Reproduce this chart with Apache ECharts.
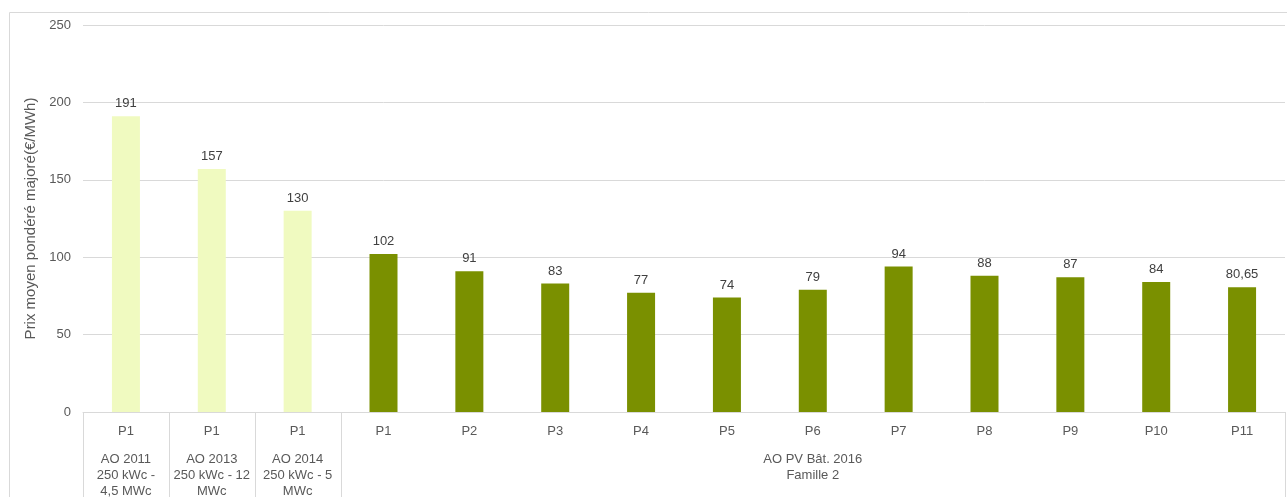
<!DOCTYPE html>
<html>
<head>
<meta charset="utf-8">
<script src="https://cdn.jsdelivr.net/npm/echarts@6/dist/echarts.min.js"></script>
<style>
  html, body { margin: 0; padding: 0; background: #fff; }
  #chart { width: 1287px; height: 497px; }
</style>
</head>
<body>
<div id="chart"></div>
<script>
// données
const phases = ['P1', 'P1', 'P1', 'P1', 'P2', 'P3', 'P4', 'P5', 'P6', 'P7', 'P8', 'P9', 'P10', 'P11'];
const prix = [191, 157, 130, 102, 91, 83, 77, 74, 79, 94, 88, 87, 84, 80.65];
const groupe = [0, 1, 2, 3, 3, 3, 3, 3, 3, 3, 3, 3, 3, 3]; // appel d'offres de chaque barre
const groupLabels = ['AO 2011\n250 kWc -\n4,5 MWc', 'AO 2013\n250 kWc - 12\nMWc', 'AO 2014\n250 kWc - 5\nMWc', '', '', '', '', '', 'AO PV Bât. 2016\nFamille 2', '', '', '', '', ''];
const groupColors = ['#f0fac0', '#f0fac0', '#f0fac0', '#7a9000'];

const fontFamily = '"Liberation Sans", Arial, sans-serif';
const gris = '#d9d9d9';

const chart = echarts.init(document.getElementById('chart'));

const option = {
  animation: false,
  textStyle: { fontFamily: fontFamily },
  grid: { left: 83, right: 2, top: 25, bottom: 85, containLabel: false, outerBoundsMode: 'none' },
  xAxis: [
    {
      type: 'category',
      data: phases,
      axisLine: { lineStyle: { color: gris } },
      axisTick: { show: false },
      axisLabel: { interval: 0, color: '#595959', fontSize: 13, margin: 13 }
    },
    {
      type: 'category',
      position: 'bottom',
      data: groupLabels,
      axisLine: { show: false },
      axisTick: { show: false },
      axisLabel: { interval: 0, color: '#595959', fontSize: 13, margin: 39, lineHeight: 16 }
    }
  ],
  yAxis: {
    type: 'value',
    min: 0,
    max: 250,
    interval: 50,
    name: 'Prix moyen pondéré majoré(€/MWh)',
    nameLocation: 'middle',
    nameGap: 40,
    nameTextStyle: { color: '#595959', fontSize: 15 },
    axisLine: { show: false },
    axisTick: { show: false },
    axisLabel: { color: '#595959', fontSize: 13, margin: 12 },
    splitLine: { lineStyle: { color: gris } }
  },
  series: [
    {
      type: 'bar',
      barWidth: 28,
      data: prix.map((v, i) => ({ value: v, itemStyle: { color: groupColors[groupe[i]] } })),
      label: {
        show: true,
        position: 'top',
        distance: 6,
        color: '#404040',
        fontSize: 13,
        formatter: p => String(p.value).replace('.', ',')
      }
    }
  ]
};

chart.setOption(option);

// séparateurs des groupes sous l'axe + cadre du graphique
const x0 = chart.convertToPixel({ xAxisIndex: 0 }, 0);
const x1 = chart.convertToPixel({ xAxisIndex: 0 }, 1);
const band = x1 - x0;
const yZero = chart.convertToPixel({ yAxisIndex: 0 }, 0);
const bounds = [0, 1, 2, 3].map(i => chart.convertToPixel({ xAxisIndex: 0 }, i) - band / 2);
bounds.push(chart.convertToPixel({ xAxisIndex: 0 }, phases.length - 1) + band / 2);

const graphics = bounds.map(x => ({
  type: 'line',
  shape: { x1: Math.round(x) + 0.5, y1: yZero, x2: Math.round(x) + 0.5, y2: 497 },
  style: { stroke: gris, lineWidth: 1 },
  silent: true
}));
graphics.push({
  type: 'rect',
  shape: { x: 9.5, y: 12.5, width: 1300, height: 500 },
  style: { stroke: gris, fill: 'none', lineWidth: 1 },
  silent: true
});
chart.setOption({ graphic: graphics });
</script>
</body>
</html>
